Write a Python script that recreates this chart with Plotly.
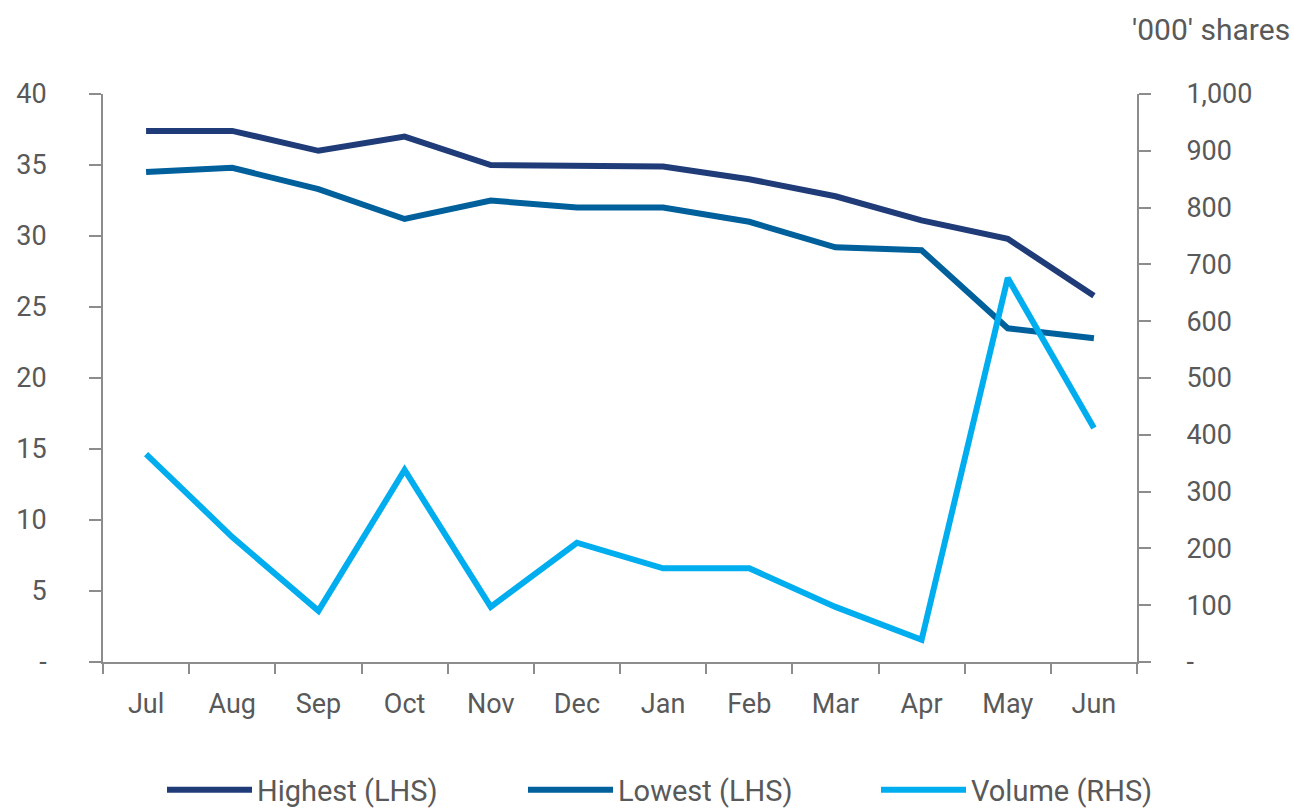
import plotly.graph_objects as go

months = ["Jul", "Aug", "Sep", "Oct", "Nov", "Dec", "Jan", "Feb", "Mar", "Apr", "May", "Jun"]
highest = [37.4, 37.4, 36.0, 37.0, 35.0, 35.0, 34.9, 34.0, 32.8, 31.1, 29.8, 25.8]
lowest = [34.5, 34.8, 33.3, 31.2, 32.5, 32.0, 32.0, 31.0, 29.2, 29.0, 23.5, 22.8]
volume = [366, 220, 90, 338, 97, 210, 165, 165, 97, 39, 676, 412]

left_ticks = [0, 5, 10, 15, 20, 25, 30, 35, 40]
left_labels = ["-", "5", "10", "15", "20", "25", "30", "35", "40"]
right_ticks = [0, 100, 200, 300, 400, 500, 600, 700, 800, 900, 1000]
right_labels = ["-", "100", "200", "300", "400", "500", "600", "700", "800", "900", "1,000"]

FONT = "Roboto"
GREY = "#595959"
AXIS = "#8c8c8c"
FS = 27
LFS = 29

L, R, T, B = 103, 157, 94, 146
PW = 1294 - L - R
PH = 808 - T - B

def px_x(p):
    return (p - L) / PW

def px_y(p):
    return (808 - B - p) / PH

fig = go.Figure()
fig.add_trace(go.Scatter(x=months, y=highest, name="Highest (LHS)", mode="lines",
                         line=dict(color="#1f3c78", width=6), legend="legend"))
fig.add_trace(go.Scatter(x=months, y=lowest, name="Lowest (LHS)", mode="lines",
                         line=dict(color="#00609c", width=6), legend="legend2"))
fig.add_trace(go.Scatter(x=months, y=volume, name="Volume (RHS)", mode="lines", yaxis="y2",
                         line=dict(color="#00aeef", width=6), legend="legend2"))

leg_common = dict(orientation="h", yanchor="middle", y=px_y(790), xanchor="left",
                  font=dict(family=FONT, size=LFS, color=GREY), itemwidth=85,
                  bgcolor="rgba(0,0,0,0)")

fig.update_layout(
    width=1294, height=808,
    margin=dict(l=L, r=R, t=T, b=B, autoexpand=False),
    paper_bgcolor="white", plot_bgcolor="white",
    font=dict(family=FONT, size=FS, color=GREY),
    showlegend=True,
    legend=dict(x=px_x(162), **leg_common),
    legend2=dict(x=px_x(523), entrywidth=253, entrywidthmode="pixels", **leg_common),
    xaxis=dict(type="category", range=[-0.5, 11.5], showgrid=False, showline=True,
               linecolor=AXIS, linewidth=2, ticks="outside", tickson="boundaries",
               ticklen=10, tickwidth=2, tickcolor=AXIS, ticklabelstandoff=17,
               automargin=False, tickfont=dict(family=FONT, size=FS, color=GREY)),
    yaxis=dict(range=[0, 40], tickvals=left_ticks, ticktext=left_labels, showgrid=False,
               zeroline=False, showline=True, linecolor=AXIS, linewidth=2,
               ticks="outside", ticklen=12, tickwidth=2, tickcolor=AXIS, automargin=False,
               ticklabelstandoff=37, tickfont=dict(family=FONT, size=FS, color=GREY)),
    yaxis2=dict(range=[0, 1000], tickvals=right_ticks, ticktext=right_labels, overlaying="y",
                side="right", showgrid=False, zeroline=False, showline=True, linecolor=AXIS,
                linewidth=2, ticks="outside", ticklen=12, tickwidth=2, tickcolor=AXIS,
                automargin=False, ticklabelstandoff=30,
                tickfont=dict(family=FONT, size=FS, color=GREY)),
    annotations=[dict(text="'000' shares", xref="paper", yref="paper", x=px_x(1292),
                      y=px_y(30), xanchor="right", yanchor="middle", showarrow=False,
                      font=dict(family=FONT, size=30, color=GREY))],
)

fig.write_html("out.html", config={"displayModeBar": False},
               post_script="document.body.style.margin='0px';")
